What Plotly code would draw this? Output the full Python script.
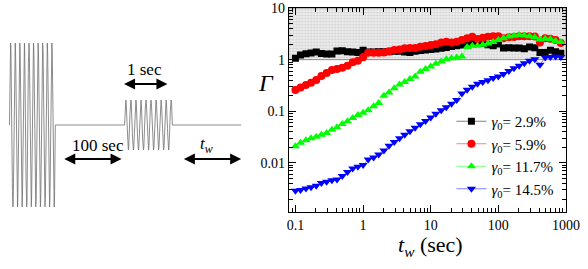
import numpy as np
import plotly.graph_objects as go

# ---------------- data ----------------
tw = [0.1, 0.119, 0.143, 0.170, 0.203, 0.242, 0.289, 0.346, 0.412, 0.492, 0.588, 0.702, 0.838,
      1.0, 1.19, 1.43, 1.70, 2.03, 2.42, 2.89, 3.46, 4.12, 4.92, 5.88, 7.02, 8.38,
      10.0, 11.9, 14.3, 17.0, 20.3, 24.2, 28.9, 34.6, 41.2, 49.2, 58.8, 70.2, 83.8,
      100, 119, 143, 170, 203, 242, 289, 346, 412, 492, 588, 702, 838]

gamma_2_9 = [1.06, 1.23, 1.30, 1.35, 1.40, 1.32, 1.28, 1.28, 1.47, 1.49, 1.42, 1.40, 1.38,
             1.52, 1.40, 1.40, 1.42, 1.42, 1.42, 1.45, 1.45, 1.40, 1.38, 1.45, 1.50, 1.53,
             1.58, 1.60, 1.66, 1.72, 1.80, 1.85, 1.92, 2.15, 2.20, 2.10, 2.05, 1.95, 1.85,
             2.00, 1.68, 1.70, 1.68, 1.68, 1.62, 1.75, 1.70, 1.38, 1.38, 1.52, 1.42, 1.33]

gamma_5_9 = [0.258, 0.29, 0.322, 0.357, 0.403, 0.48, 0.55, 0.63, 0.66, 0.70, 0.76, 0.89, 0.95,
             1.11, 1.36, 1.36, 1.36, 1.38, 1.45, 1.53, 1.58, 1.66, 1.68, 1.68, 1.78, 1.84,
             1.92, 1.98, 2.15, 2.22, 2.15, 2.22, 2.40, 2.59, 2.78, 2.50, 2.65, 2.78, 2.85,
             2.85, 2.60, 2.72, 2.75, 2.85, 2.85, 2.85, 2.80, 2.15, 2.60, 2.55, 2.40, 2.10]

gamma_11_7 = [0.021, 0.0245, 0.0275, 0.030, 0.032, 0.035, 0.038, 0.044, 0.049, 0.057, 0.064, 0.074, 0.085,
              0.094, 0.105, 0.125, 0.145, 0.20, 0.23, 0.28, 0.33, 0.37, 0.42, 0.47, 0.58, 0.66,
              0.74, 0.83, 0.92, 1.02, 1.06, 1.10, 1.15, 1.75, 1.85, 1.85, 1.95, 2.05, 2.20,
              2.40, 2.60, 2.80, 2.90, 3.00, 2.95, 2.85, 2.70, 2.45, 2.55, 2.50, 2.30, 2.20]

gamma_14_5 = [0.0029, 0.0030, 0.0032, 0.0034, 0.0036, 0.0041, 0.0043, 0.0046, 0.0048, 0.0056, 0.0067, 0.0078, 0.0084,
              0.0091, 0.0117, 0.0128, 0.0145, 0.0175, 0.0215, 0.0255, 0.030, 0.035, 0.041, 0.048, 0.056, 0.065,
              0.076, 0.090, 0.105, 0.120, 0.140, 0.165, 0.220, 0.260, 0.300, 0.340, 0.370, 0.400, 0.440,
              0.47, 0.53, 0.60, 0.68, 0.76, 0.85, 0.95, 1.02, 0.80, 1.10, 1.13, 1.15, 1.12]

series_labels = ["2.9%", "5.9%", "11.7%", "14.5%"]
x_tick_vals = [0.1, 1, 10, 100, 1000]
x_tick_text = ["0.1", "1", "10", "100", "1000"]
y_tick_vals = [0.01, 0.1, 1, 10]
y_tick_text = ["0.01", "0.1", "1", "10"]
band = [1, 10]  # shaded region of Gamma

# schematic of the protocol (arbitrary schematic units)
burst1 = dict(start=7.5, end=53.5, cycles=10, amp=82)
burst2 = dict(start=123, end=171, cycles=9.5, amp=25)
line_end = 240
schem_labels = ["1 sec", "100 sec", "<i>t</i><sub><i>w</i></sub>"]

# ---------------- styling ----------------
FONT = "Liberation Serif, Times New Roman, DejaVu Serif, serif"
colors = ["#000000", "#ff0000", "#00ff00", "#0000ff"]
line_colors = ["#808080", "#ff8080", "#80ff80", "#8080ff"]
symbols = ["square", "circle", "triangle-up", "triangle-down"]
msizes = [7, 8, 8, 8]

XR = [-1.1, 3.0]
YR = [-2.95, 1.0]

fig = go.Figure()

# shaded band
fig.add_trace(go.Scatter(
    x=[10 ** XR[0], 10 ** XR[1], 10 ** XR[1], 10 ** XR[0], 10 ** XR[0]],
    y=[band[0], band[0], band[1], band[1], band[0]],
    mode="lines", fill="toself", fillcolor="#e9e9e9",
    fillpattern=dict(shape=".", fgcolor="#b4b4b4", bgcolor="#ececec", size=3, solidity=0.35),
    line=dict(color="#8a8a8a", width=1), showlegend=False, hoverinfo="skip",
    xaxis="x", yaxis="y"))

for vals, lab, c, lc, s, ms in zip([gamma_2_9, gamma_5_9, gamma_11_7, gamma_14_5],
                                    series_labels, colors, line_colors, symbols, msizes):
    fig.add_trace(go.Scatter(
        x=tw, y=vals, mode="lines+markers",
        name="<i>γ</i><sub>0</sub>= " + lab,
        line=dict(color=lc, width=1),
        marker=dict(symbol=s, size=ms, color=c, line=dict(width=0)),
        xaxis="x", yaxis="y"))

# schematic waveform
def burst(b):
    n = int(b["cycles"] * 40)
    t = np.linspace(0, 1, n)
    xs = b["start"] + t * (b["end"] - b["start"])
    ys = b["amp"] * np.sin(2 * np.pi * b["cycles"] * t)
    return list(xs), list(ys)

bx1, by1 = burst(burst1)
bx2, by2 = burst(burst2)
wx = [burst1["start"]] + bx1 + [burst2["start"]] + bx2 + [line_end]
wy = [0] + by1 + [0] + by2 + [0]
fig.add_trace(go.Scatter(x=wx, y=wy, mode="lines", line=dict(color="#707070", width=0.8),
                         showlegend=False, hoverinfo="skip", xaxis="x2", yaxis="y2"))

# arrows in schematic
arrows = [(121, 166, 41), (61, 120, -34), (181, 240, -34)]
for (a, b, yy) in arrows:
    fig.add_annotation(x=b, y=yy, ax=a, ay=yy, xref="x2", yref="y2", axref="x2", ayref="y2",
                       text="", showarrow=True, arrowhead=2, arrowside="end+start",
                       arrowsize=1.1, arrowwidth=2, arrowcolor="black", standoff=0, startstandoff=0)
for (txt, xx, yy) in zip(schem_labels, [143, 96, 205], [56, -20, -20]):
    fig.add_annotation(x=xx, y=yy, xref="x2", yref="y2", text=txt, showarrow=False,
                       xanchor="center", yanchor="middle",
                       font=dict(family=FONT, size=17, color="black"))

# axis titles
fig.add_annotation(x=265 / 566, y=(212 - 83) / 204, xref="paper", yref="paper",
                   xanchor="center", yanchor="middle",
                   text="<i>Γ</i>", showarrow=False, font=dict(family=FONT, size=24, color="black"))
fig.add_annotation(x=430 / 566, y=-0.168, xref="paper", yref="paper",
                   xanchor="center", yanchor="middle",
                   text="<i>t</i><sub><i>w</i></sub> (sec)", showarrow=False,
                   font=dict(family=FONT, size=22, color="black"))

x_minor = [m * 10 ** d for d in range(-2, 4) for m in range(2, 10)]
y_minor = [m * 10 ** d for d in range(-3, 2) for m in range(2, 10)]

axis_common = dict(type="log", showline=True, linecolor="black", linewidth=1, mirror="allticks",
                   ticks="inside", ticklen=7, tickwidth=1, tickcolor="black", showgrid=False,
                   zeroline=False, tickfont=dict(family=FONT, size=14, color="black"))

fig.update_layout(
    width=588, height=269,
    margin=dict(l=0, r=22, t=8, b=57),
    paper_bgcolor="white", plot_bgcolor="rgba(0,0,0,0)",
    font=dict(family=FONT, color="black"),
    xaxis=dict(domain=[287.7 / 566, 1], range=XR, tickmode="array", tickvals=x_tick_vals,
               ticktext=x_tick_text, anchor="y",
               minor=dict(tickmode="array", tickvals=x_minor, ticks="inside", ticklen=4,
                          tickcolor="black", tickwidth=1), **axis_common),
    yaxis=dict(domain=[0, 1], range=YR, tickmode="array", tickvals=y_tick_vals,
               ticktext=y_tick_text, anchor="x",
               minor=dict(tickmode="array", tickvals=y_minor, ticks="inside", ticklen=4,
                          tickcolor="black", tickwidth=1), **axis_common),
    xaxis2=dict(domain=[0, 245 / 566], range=[0, 245], visible=False, anchor="y2"),
    yaxis2=dict(domain=[0, 1], range=[-87, 117], visible=False, anchor="x2"),
    legend=dict(x=451 / 566, y=(212 - 105) / 204, xanchor="left", yanchor="top",
                bgcolor="rgba(0,0,0,0)", font=dict(family=FONT, size=15, color="black"),
                itemwidth=30, tracegroupgap=0),
    showlegend=True,
)

fig.write_html("out.html", config={"displayModeBar": False},
               post_script="document.body.style.margin='0';document.body.style.overflow='hidden';")
